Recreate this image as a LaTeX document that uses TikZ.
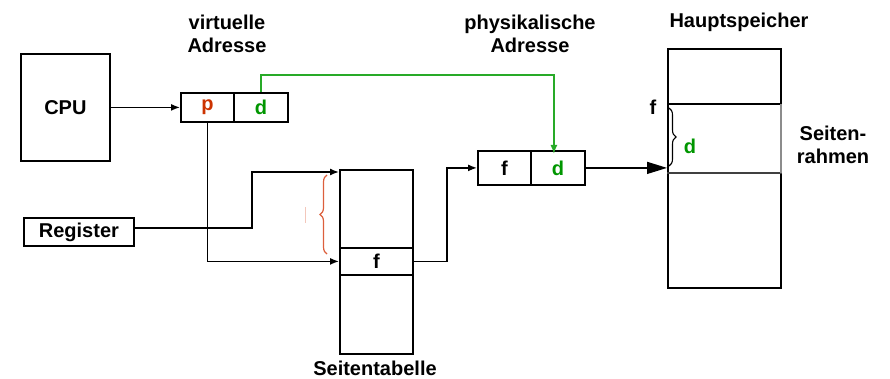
\documentclass[tikz,border=0pt]{standalone}
\usepackage{fontspec}
\setmainfont{Liberation Sans}
\usetikzlibrary{arrows.meta,decorations.pathreplacing,calc}
\definecolor{pred}{RGB}{204,51,0}
\definecolor{dgreen}{RGB}{0,150,0}
\definecolor{lgreen}{RGB}{40,170,40}
\definecolor{bracered}{RGB}{220,95,60}
\begin{document}
\begin{tikzpicture}[x=1pt,y=-1pt,
  every node/.style={font=\fontsize{20}{23}\selectfont\bfseries},
  box/.style={draw,line width=1.8pt,inner sep=0pt,anchor=north west},
  lbl/.style={align=center,inner sep=0pt},
  conn/.style={line width=1.4pt,-{Latex[length=9pt,width=7pt]}},
  gconn/.style={draw=lgreen,line width=1.5pt,-{Latex[length=9pt,width=7pt]}}]
\useasboundingbox (0,0) rectangle (890,379);

% CPU and virtual address
\node[box,minimum width=89pt,minimum height=107pt] (cpu) at (20,53) {};
\node at (cpu.center) {CPU};
\node[box,minimum width=53pt,minimum height=29pt,text=pred] (vp) at (180,92) {p};
\node[box,minimum width=54pt,minimum height=29pt,text=dgreen] (vd) at (233,92) {d};
\node[lbl] (vlabel) at (227,34) {virtuelle\\Adresse};

% physical address
\node[box,minimum width=53pt,minimum height=34pt] (pf) at (477,150) {f};
\node[box,minimum width=54pt,minimum height=34pt,text=dgreen] (pd) at (530,150) {d};
\node[lbl] (plabel) at (530,34) {physikalische\\Adresse};

% register
\node[box,minimum width=110pt,minimum height=28pt] (reg) at (23,217) {Register};

% page table
\node[box,minimum width=73pt,minimum height=184pt] (pt) at (339,169) {};
\node[box,minimum width=73pt,minimum height=27pt] (ptf) at (339,247) {f};
\node[lbl] (ptlabel) at (375,368) {Seitentabelle};

% main memory with one page frame
\node[box,minimum width=113pt,minimum height=239pt] (mem) at (667,48) {};
\node[lbl] (memlabel) at (739,22) {Hauptspeicher};
\coordinate (frtl) at (667,104);
\coordinate (frtr) at (782,104);
\coordinate (frbl) at (667,173);
\coordinate (frbr) at (782,173);
\draw[line width=1.2pt] (frtl) -- (frtr);
\draw[line width=1.2pt,black!75] (frbl) -- (frbr);
\draw[line width=2.6pt,black!45] (781,104) -- (781,173);
\node[lbl] (ff) at (653,107) {f};
\node[lbl,text=dgreen] (fd) at (690,146) {d};
\node[lbl] (frlabel) at (833,145) {Seiten-\\rahmen};
\draw[line width=1.1pt,decorate,decoration={brace,amplitude=7pt}]
  (669,108) -- (669,166);

% offset brace at the page table
\draw[bracered,line width=1.2pt,decorate,decoration={brace,amplitude=7pt}]
  (327,254) -- (327,175);
\draw[bracered!35,line width=1pt] (305,207) -- (305,223);

% connectors
\draw[conn] (cpu.east) -- (vp.west);
\draw[gconn] (vd.north) -- ++(0,-17) -| ([xshift=-4pt,yshift=-4pt]pd.north);
\draw[conn] (vp.south) |- (ptf.west);
\draw[conn] ([yshift=4pt]reg.east) -- ++(117,0) |- ([yshift=-3pt]pt.north west);
\draw[conn] (ptf.east) -- ++(33,0) |- (pf.west);
\coordinate (memin) at (mem.west |- pd.east);
\draw[line width=1.4pt,-{Triangle[length=20pt,width=12pt]}] (pd.east) -- (memin);
\end{tikzpicture}
\end{document}
